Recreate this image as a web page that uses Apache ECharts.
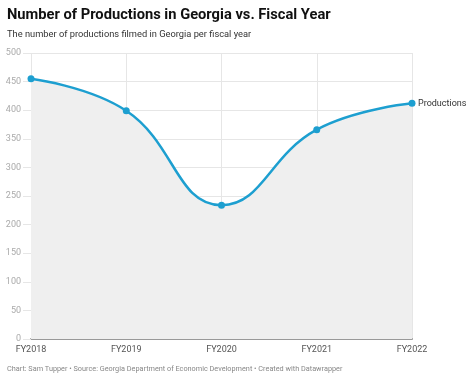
<!DOCTYPE html>
<html><head><meta charset="utf-8">
<script src="https://cdn.jsdelivr.net/npm/echarts@6/dist/echarts.min.js"></script>
<style>html,body{margin:0;padding:0;background:#fff}#c{width:475px;height:381px}</style>
</head><body><div id="c"></div>
<script>
var categories = ['FY2018','FY2019','FY2020','FY2021','FY2022'];
var productions = [455, 399, 234, 366, 412];
var yTicks = [0,50,100,150,200,250,300,350,400,450,500];

var chart = echarts.init(document.getElementById('c'), null, {renderer:'canvas'});
chart.setOption({
  animation:false,
  textStyle:{fontFamily:'Roboto'},
  title:[
    {text:'Number of Productions in Georgia vs. Fiscal Year', left:7, top:8, padding:0,
     textStyle:{fontFamily:'Roboto', fontSize:14.7, fontWeight:'bold', color:'#111'}},
    {text:'The number of productions filmed in Georgia per fiscal year', left:7, top:30, padding:0,
     textStyle:{fontFamily:'Roboto', fontSize:9.3, fontWeight:'normal', color:'#333'}},
    {text:'Chart: Sam Tupper • Source: Georgia Department of Economic Development • Created with Datawrapper', left:7, top:366, padding:0,
     textStyle:{fontFamily:'Roboto', fontSize:7.3, fontWeight:'normal', color:'#888'}}
  ],
  grid:{left:31, right:63, top:53, bottom:42},
  xAxis:{type:'category', data:categories, boundaryGap:false,
    axisLine:{show:true, lineStyle:{color:'#999', width:2}},
    axisTick:{show:false},
    axisLabel:{color:'#555', fontSize:9, margin:6, fontFamily:'Roboto'},
    splitLine:{show:true, lineStyle:{color:'#e6e6e6'}}
  },
  yAxis:{type:'value', min:0, max:500, interval:50,
    axisLine:{show:false},
    axisTick:{show:true, length:8, lineStyle:{color:'#e6e6e6'}},
    axisLabel:{color:'#aaa', fontSize:9, margin:10, fontFamily:'Roboto',
      formatter:function(v){return yTicks.indexOf(v)>=0? String(v):'';}},
    splitLine:{show:true, lineStyle:{color:'#e6e6e6'}}
  },
  series:[{
    type:'line', name:'Productions', data:productions,
    smooth:0.45,
    symbol:'circle', symbolSize:7,
    itemStyle:{color:'#1d9fd0'},
    lineStyle:{color:'#1d9fd0', width:2.5},
    areaStyle:{color:'#efefef', opacity:1},
    endLabel:{show:true, formatter:'Productions', color:'#333', fontSize:9, distance:6, fontFamily:'Roboto'}
  }]
});
</script></body></html>
